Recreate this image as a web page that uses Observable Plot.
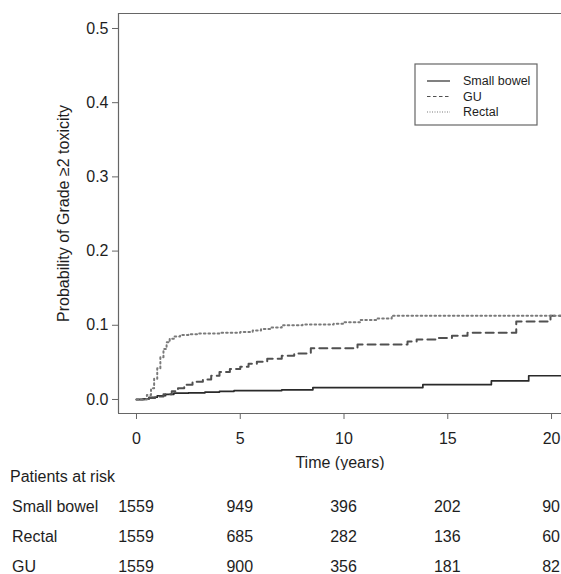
<!DOCTYPE html>
<html>
<head>
<meta charset="utf-8">
<script src="https://cdn.jsdelivr.net/npm/d3@7"></script>
<script src="https://cdn.jsdelivr.net/npm/@observablehq/plot@0.6"></script>
<style>
  html, body { margin: 0; padding: 0; background: #fff; overflow: hidden; }
  #wrap { position: relative; width: 561px; height: 574px; font-family: "Liberation Sans", Arial, sans-serif; color: #1e1e1e; }
  .cell { position: absolute; font-size: 16px; white-space: nowrap; line-height: 1; }
  .legend { position: absolute; }
</style>
</head>
<body>
<div id="wrap"></div>
<script>
// ---- Data ----
const seriesNames = ["Small bowel", "GU", "Rectal"];

const smallBowelT = [0, 0.3, 0.6, 1.0, 1.4, 1.8, 2.5, 3.3, 4.0, 4.7, 7.0, 8.5, 13.8, 17.1, 18.9, 20.48];
const smallBowelP = [0, 0.001, 0.003, 0.005, 0.007, 0.0085, 0.009, 0.010, 0.011, 0.012, 0.013, 0.016, 0.020, 0.025, 0.032, 0.032];

const guT = [0, 0.3, 0.6, 0.9, 1.3, 1.7, 2.0, 2.3, 2.7, 3.2, 3.6, 4.0, 4.5, 5.0, 5.4, 5.8, 6.3, 7.0, 7.6, 8.4, 10.65, 13.06, 13.5, 14.5, 15.2, 15.95, 18.3, 19.95, 20.48];
const guP = [0, 0, 0.002, 0.004, 0.007, 0.011, 0.015, 0.020, 0.024, 0.027, 0.032, 0.037, 0.041, 0.044, 0.048, 0.051, 0.055, 0.059, 0.062, 0.069, 0.074, 0.078, 0.081, 0.083, 0.086, 0.090, 0.105, 0.113, 0.113];

const rectalT = [0, 0.2, 0.5, 0.7, 0.85, 1.0, 1.15, 1.3, 1.45, 1.6, 1.8, 2.1, 2.5, 3.0, 4.0, 5.0, 5.6, 6.0, 6.5, 7.0, 8.0, 9.5, 10.0, 10.8, 11.6, 12.3, 20.48];
const rectalP = [0, 0, 0.006, 0.015, 0.028, 0.042, 0.057, 0.068, 0.077, 0.082, 0.085, 0.087, 0.088, 0.089, 0.090, 0.091, 0.093, 0.095, 0.097, 0.100, 0.101, 0.102, 0.104, 0.107, 0.109, 0.113, 0.113];

const xTicks = [0, 5, 10, 15, 20];
const yTicks = [0, 0.1, 0.2, 0.3, 0.4, 0.5];
const xDomain = [-0.867, 20.48];
const yDomain = [-0.0189, 0.5202];

const riskTitle = "Patients at risk";
const riskGroups = ["Small bowel", "Rectal", "GU"];
const riskSmallBowel = [1559, 949, 396, 202, 90];
const riskRectal = [1559, 685, 282, 136, 60];
const riskGU = [1559, 900, 356, 181, 82];

const yLabel = "Probability of Grade \u22652 toxicity";
const xLabel = "Time (years)";

// ---- Build tables ----
const toRows = (name, T, P) => T.map((t, i) => ({series: name, t, p: P[i]}));
const sbRows = toRows("Small bowel", smallBowelT, smallBowelP);
const guRows = toRows("GU", guT, guP);
const reRows = toRows("Rectal", rectalT, rectalP);

const styles = {
  "Small bowel": {stroke: "#2a2a2a", strokeWidth: 1.7, dash: null},
  "GU": {stroke: "#505050", strokeWidth: 2, dash: "8,5"},
  "Rectal": {stroke: "#7a7a7a", strokeWidth: 2, dash: "1.6,3"}
};

const W = 561, H = 470;
const plot = Plot.plot({
  width: W,
  height: H,
  marginLeft: 118,
  marginRight: 0,
  marginTop: 13,
  marginBottom: 57,
  style: {fontFamily: '"Liberation Sans", Arial, sans-serif', fontSize: "16px", color: "#1e1e1e", background: "transparent"},
  x: {domain: xDomain},
  y: {domain: yDomain},
  marks: [
    Plot.ruleY([yDomain[0], yDomain[1]], {stroke: "#666", strokeWidth: 1.2}),
    Plot.ruleX([xDomain[0]], {stroke: "#666", strokeWidth: 1.2}),
    Plot.axisX({ticks: xTicks, tickSize: 6, tickPadding: 13, stroke: "#666", fill: "#1e1e1e", label: null, fontSize: 16}),
    Plot.axisY({ticks: yTicks, tickSize: 6, tickPadding: 4, tickFormat: ".1f", stroke: "#666", fill: "#1e1e1e", label: null, fontSize: 16}),
    Plot.lineY(sbRows, {x: "t", y: "p", curve: "step-after", stroke: styles["Small bowel"].stroke, strokeWidth: styles["Small bowel"].strokeWidth}),
    Plot.lineY(guRows, {x: "t", y: "p", curve: "step-after", stroke: styles["GU"].stroke, strokeWidth: styles["GU"].strokeWidth, strokeDasharray: styles["GU"].dash}),
    Plot.lineY(reRows, {x: "t", y: "p", curve: "step-after", stroke: styles["Rectal"].stroke, strokeWidth: styles["Rectal"].strokeWidth, strokeDasharray: styles["Rectal"].dash}),
    Plot.text([yLabel], {frameAnchor: "left", textAnchor: "middle", lineAnchor: "middle", rotate: -90, dx: -55, fontSize: 16, fill: "#1e1e1e"}),
    Plot.text([xLabel], {frameAnchor: "bottom", dy: 54, fontSize: 16, fill: "#1e1e1e"})
  ]
});

const wrap = document.getElementById("wrap");
plot.style.position = "absolute";
plot.style.left = "0px";
plot.style.top = "0px";
wrap.appendChild(plot);

// ---- Legend ----
const ns = "http://www.w3.org/2000/svg";
const leg = document.createElementNS(ns, "svg");
leg.setAttribute("width", 124);
leg.setAttribute("height", 63);
leg.setAttribute("class", "legend");
leg.style.left = "414px";
leg.style.top = "63px";
const box = document.createElementNS(ns, "rect");
box.setAttribute("x", 1); box.setAttribute("y", 1);
box.setAttribute("width", 122); box.setAttribute("height", 61);
box.setAttribute("fill", "white"); box.setAttribute("stroke", "#666"); box.setAttribute("stroke-width", 1.2);
leg.appendChild(box);
seriesNames.forEach((name, i) => {
  const yy = 18 + i * 15.5;
  const ln = document.createElementNS(ns, "line");
  ln.setAttribute("x1", 13); ln.setAttribute("x2", 36);
  ln.setAttribute("y1", yy); ln.setAttribute("y2", yy);
  ln.setAttribute("stroke", styles[name].stroke);
  ln.setAttribute("stroke-width", 1.2);
  if (name === "GU") ln.setAttribute("stroke-dasharray", "3.5,2.5");
  if (name === "Rectal") ln.setAttribute("stroke-dasharray", "1,1.5");
  leg.appendChild(ln);
  const tx = document.createElementNS(ns, "text");
  tx.setAttribute("x", 49); tx.setAttribute("y", yy);
  tx.setAttribute("dy", "0.35em");
  tx.setAttribute("font-size", "12.5px");
  tx.setAttribute("font-family", '"Liberation Sans", Arial, sans-serif');
  tx.setAttribute("fill", "#1e1e1e");
  tx.textContent = name;
  leg.appendChild(tx);
});
wrap.appendChild(leg);

// ---- Risk table ----
const xs = plot.scale("x");
function addCell(text, left, top, center) {
  const d = document.createElement("div");
  d.className = "cell";
  d.textContent = text;
  d.style.left = left + "px";
  d.style.top = top + "px";
  d.style.transform = center ? "translate(-50%, -50%)" : "translate(0, -50%)";
  wrap.appendChild(d);
}
addCell(riskTitle, 10, 477, false);
const riskValues = [riskSmallBowel, riskRectal, riskGU];
const rowY = [507, 537, 567];
riskGroups.forEach((g, r) => {
  addCell(g, 12, rowY[r], false);
  riskValues[r].forEach((v, i) => addCell(String(v), xs.apply(xTicks[i]), rowY[r], true));
});
</script>
</body>
</html>
